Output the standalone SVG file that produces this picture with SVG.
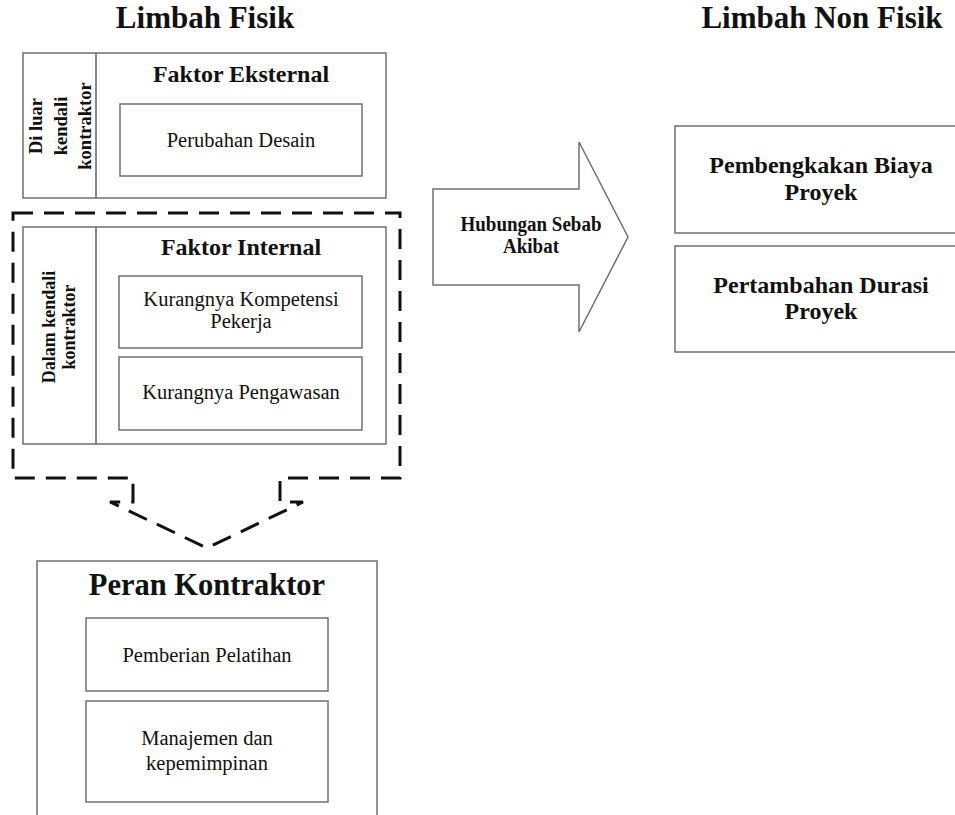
<svg xmlns="http://www.w3.org/2000/svg" width="955" height="815" viewBox="0 0 955 815">
<style>
.box{fill:#fff;stroke:#707070;stroke-width:1.5}
.ln{stroke:#606060;stroke-width:1.5}
text{font-family:'Liberation Serif','Times New Roman',serif;fill:#111;text-anchor:middle}
.b{font-weight:bold}
.r{font-size:20.5px}
.h{font-size:24px;font-weight:bold}
.dash{fill:none;stroke:#111;stroke-width:3;stroke-dasharray:20 11}
</style>
<rect width="955" height="815" fill="#fff"/>
<text class="b" x="205" y="28" font-size="31">Limbah Fisik</text>
<text class="b" x="822" y="28" font-size="31">Limbah Non Fisik</text>

<g id="eksternal">
<rect class="box" x="23" y="53" width="363" height="145"/>
<line class="ln" x1="96" y1="53" x2="96" y2="198"/>
<text class="b" font-size="18.5" transform="translate(0,126) rotate(-90)"><tspan x="0" y="42">Di luar</tspan><tspan x="0" y="66.5">kendali</tspan><tspan x="0" y="91">kontraktor</tspan></text>
<text class="h" x="241" y="82">Faktor Eksternal</text>
<rect class="box" x="120" y="104" width="242" height="72"/>
<text class="r" x="241" y="147">Perubahan Desain</text>
</g>

<g id="internal-callout">
<path class="dash" d="M13,213 H400 V478 H280 V502 H303 L207,548 L110,502 H133 V478 H13 Z"/>
</g>

<g id="internal">
<rect class="box" x="23" y="227" width="363" height="217"/>
<line class="ln" x1="96" y1="227" x2="96" y2="444"/>
<text class="b" font-size="18" transform="translate(0,327) rotate(-90)"><tspan x="0" y="55">Dalam kendali</tspan><tspan x="0" y="75">kontraktor</tspan></text>
<text class="h" x="241" y="255">Faktor Internal</text>
<rect class="box" x="119" y="276" width="243" height="72"/>
<text class="r" x="241" y="306">Kurangnya Kompetensi</text>
<text class="r" x="241" y="328">Pekerja</text>
<rect class="box" x="119" y="357" width="243" height="73"/>
<text class="r" x="241" y="399">Kurangnya Pengawasan</text>
</g>

<g id="hubungan">
<path class="box" d="M433,189 H579 V142 L628,237 L579,332 V285 H433 Z"/>
<text class="b" x="531" y="231" font-size="20" transform="translate(531,0) scale(0.95,1) translate(-531,0)">Hubungan Sebab</text>
<text class="b" x="531" y="253" font-size="20" transform="translate(531,0) scale(0.95,1) translate(-531,0)">Akibat</text>
</g>

<g id="biaya">
<rect class="box" x="675" y="126" width="290" height="107"/>
<text class="h" x="821" y="173" font-size="23.5">Pembengkakan Biaya</text>
<text class="h" x="821" y="200">Proyek</text>
</g>

<g id="durasi">
<rect class="box" x="675" y="246" width="290" height="106"/>
<text class="h" x="821" y="293">Pertambahan Durasi</text>
<text class="h" x="821" y="319">Proyek</text>
</g>

<g id="peran">
<rect class="box" x="37" y="561" width="340" height="265"/>
<text class="b" x="207" y="595" font-size="30.5">Peran Kontraktor</text>
<rect class="box" x="86" y="618" width="242" height="73"/>
<text class="r" x="207" y="662">Pemberian Pelatihan</text>
<rect class="box" x="86" y="701" width="242" height="101"/>
<text class="r" x="207" y="745">Manajemen dan</text>
<text class="r" x="207" y="770">kepemimpinan</text>
</g>
</svg>
